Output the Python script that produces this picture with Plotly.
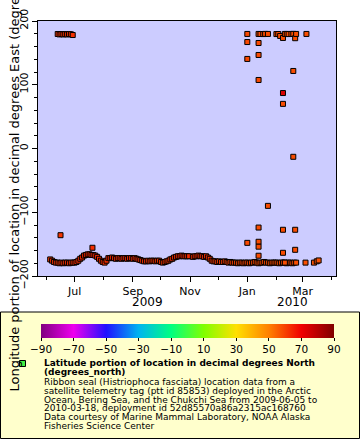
import pandas as pd
import plotly.graph_objects as go

# ---------------- data ----------------
# dense track (every 2 days from 2009-06-05), longitude in degrees East
band_start = "2009-06-05"
band_lon = [
    # Jun
    -174, -176, -178, -179, -179, -180, -179, -180, -179, -179, -180, -179, -179,
    # Jul
    -179, -178, -176, -173, -171, -168, -167, -166, -166, -167, -167, -168, -170, -173, -176, -178,
    # Aug
    -179, -176, -172, -172, -171, -172, -173, -172, -172, -173, -172, -172, -173, -172, -172,
    # Sep
    -173, -172, -173, -174, -175, -176, -177, -177, -176, -177, -176, -176, -177, -176, -176,
    # Oct
    -178, -179, -178, -177, -176, -174, -173, -171, -170, -169, -169, -168, -169, -169, -169, -169,
    # Nov
    None, -170, -169, -169, -168, -169, -169, -170, -169, -171, -173, -176, -177, -177, -178,
    # Dec
    -177, -178, -178, -177, -178, -179, -178, -179, -179, -179, -180, -179, -179, -180, -179,
    # Jan
    -179, -180, -179, -179, -178, -179, -180, -179, -179, -178, -179, -179, -180, -179, -179, -179,
    # Feb
    -179, -180, -179, -179, -179, -180, -179, -179, -180, -179,
]
band_lat = [
    61.5, 61.8, 62.0, 62.1, 62.0, 61.9, 62.2, 62.3, 62.1, 62.4, 62.5, 62.3, 62.6,
    62.7, 62.9, 63.1, 63.4, 63.6, 63.9, 64.1, 64.3, 64.2, 64.0, 63.8, 63.6, 63.4, 63.2, 63.0, 62.9,
    62.8, 63.0, 63.3, 63.5, 63.7, 63.6, 63.4, 63.6, 63.8, 63.7, 63.5, 63.6, 63.4, 63.5, 63.3,
    63.2, 63.4, 63.1, 62.9, 62.7, 62.5, 62.3, 62.4, 62.6, 62.4, 62.2, 62.3, 62.1, 62.0, 62.2,
    61.8, 61.6, 61.7, 61.9, 62.1, 62.4, 62.7, 63.0, 63.3, 63.5, 63.6, 63.8, 63.6, 63.5, 63.4, 63.3,
    63.2, 63.1, 63.3, 63.2, 63.4, 63.2, 63.0, 62.8, 62.6, 62.3, 62.0, 61.7, 61.5, 61.3, 61.1,
    61.0, 60.8, 60.6, 60.5, 60.3, 60.2, 60.0, 59.8, 59.7, 59.6, 59.5, 59.4, 59.3, 59.2, 59.1,
    59.0, 58.9, 58.8, 58.8, 58.7, 58.6, 58.5, 58.6, 58.5, 58.4, 58.5, 58.4, 58.3, 58.4, 58.3, 58.2,
    58.3, 58.2, 58.1, 58.2, 58.1, 58.0, 58.1, 58.0, 57.9, 58.0,
]

# sparse / outlying fixes
pt_time = [
    "2009-06-13", "2009-06-15", "2009-06-17", "2009-06-19", "2009-06-21", "2009-06-23",
    "2009-06-25", "2009-06-27", "2009-06-29", "2009-06-16", "2009-07-20",
    "2010-01-13", "2010-01-15", "2010-01-18", "2010-01-20", "2010-01-23",
    "2010-02-01", "2010-02-03", "2010-02-05", "2010-02-08", "2010-02-10", "2010-02-12",
    "2010-02-14", "2010-02-17", "2010-02-19", "2010-02-21", "2010-02-22", "2010-03-05",
    "2010-01-01", "2010-01-01", "2010-01-01", "2010-01-01",
    "2010-01-13", "2010-01-13", "2010-01-13", "2010-01-13", "2010-01-13", "2010-01-13", "2010-01-13",
    "2010-01-23",
    "2010-02-08", "2010-02-08", "2010-02-08", "2010-02-08",
    "2010-02-19", "2010-02-19",
    "2010-02-21", "2010-02-21",
    "2010-02-10", "2010-02-22", "2010-03-04", "2010-03-13", "2010-03-16", "2010-03-18",
]
pt_lon = [
    179.6, 179.0, 179.5, 179.0, 179.4, 179.0, 179.5, 179.2, 178.0, -136.0, -155.7,
    179.7, 179.6, 179.5, 179.8, 179.7,
    179.5, 179.6, 176.5, 173.4, 179.7, 179.7,
    179.5, 179.7, 179.8, 173.0, 179.7, 179.7,
    179.7, 167.0, 140.5, -148.0,
    165.5, 146.7, 107.5, -124.0, -146.3, -154.0, -168.2,
    -90.0,
    87.0, 70.0, -127.5, -163.6,
    121.6, -13.0,
    -127.5, -158.9,
    -179.0, -179.0, -179.0, -179.0, -177.0, -175.6,
]
pt_lat = [
    62.0, 62.1, 62.3, 62.2, 62.4, 62.5, 62.3, 62.6, 62.7, 61.9, 63.0,
    58.5, 58.4, 58.4, 58.3, 58.3,
    58.2, 58.2, 58.1, 58.0, 58.1, 58.0,
    58.1, 58.0, 57.9, 58.0, 57.9, 57.8,
    58.8, 58.7, 58.9, 58.8,
    58.6, 58.5, 58.6, 58.4, 58.5, 58.6, 58.5,
    58.4,
    74.0, 58.2, 58.3, 58.2,
    58.0, 58.1,
    57.9, 58.0,
    58.1, 57.9, 57.8, 57.7, 57.8, 57.7,
]

x_tickvals = ["2009-07-01", "2009-09-01", "2009-11-01", "2010-01-01", "2010-03-01"]
x_ticktext = ["Jul", "Sep", "Nov", "Jan", "Mar"]
x_minorvals = ["2009-06-01", "2009-08-01", "2009-10-01", "2009-12-01", "2010-02-01", "2010-04-01"]
year_labels = ["2009", "2010"]
year_pos = ["2009-09-17", "2010-02-18"]
y_tickvals = [-200, -100, 0, 100, 200]
cbar_ticks = [-90, -70, -50, -30, -10, 10, 30, 50, 70, 90]

legend_bold = ["Latitude portion of location in decimal degrees North", "(degrees_north)"]
legend_text = [
    "Ribbon seal (Histriophoca fasciata) location data from a",
    "satellite telemetry tag (ptt id 85853) deployed in the Arctic",
    "Ocean, Bering Sea, and the Chukchi Sea from 2009-06-05 to",
    "2010-03-18, deployment id 52d85570a86a2315ac168760",
    "Data courtesy of Marine Mammal Laboratory, NOAA Alaska",
    "Fisheries Science Center",
]
y_title = "Longitude portion of location in decimal degrees East (degrees_east)"

# ---------------- figure ----------------
FONT = "DejaVu Sans"
W, H = 360, 440
L, R, T, B = 38, 336, 21, 276


def px_x(px):
    return (px - L) / (R - L)


def px_y(py):
    return (B - py) / (B - T)


colorscale = [
    [0.0, "#800080"], [1 / 9, "#ee00ee"], [2 / 9, "#2010ff"], [3 / 9, "#00b4f0"],
    [4 / 9, "#00ff80"], [5 / 9, "#80ff00"], [6 / 9, "#ffe000"], [7 / 9, "#ff8000"],
    [8 / 9, "#f00000"], [1.0, "#800000"],
]

band_time = pd.date_range(band_start, periods=len(band_lon), freq="2D")

marker_common = dict(symbol="square", size=5, line=dict(color="black", width=1),
                     colorscale=colorscale, cmin=-90, cmax=90)

fig = go.Figure()
fig.add_trace(go.Scatter(
    x=band_time, y=band_lon, mode="markers", showlegend=False,
    marker=dict(color=band_lat, **marker_common,
                colorbar=dict(orientation="h", x=px_x(41), xanchor="left",
                              y=px_y(324), yanchor="top", len=293, lenmode="pixels",
                              thickness=14, outlinewidth=0, xpad=0, ypad=0,
                              tickmode="array", tickvals=cbar_ticks, ticks="outside",
                              ticklen=3, tickcolor="black",
                              tickfont=dict(family=FONT, size=10.5, color="black"))),
))
fig.add_trace(go.Scatter(
    x=pd.to_datetime(pt_time), y=pt_lon, mode="markers", showlegend=False,
    marker=dict(color=pt_lat, **marker_common),
))

shapes = [
    dict(type="rect", xref="paper", yref="paper", x0=px_x(0.5), x1=px_x(359.5),
         y0=px_y(312), y1=px_y(438.5), fillcolor="#ffffcc",
         line=dict(color="black", width=1), layer="below"),
    dict(type="rect", xref="paper", yref="paper", x0=px_x(19.5), x1=px_x(25.5),
         y0=px_y(360.5), y1=px_y(366.5), fillcolor="#44ee44",
         line=dict(color="black", width=1), layer="above"),
]

annotations = []
for lab, pos in zip(year_labels, year_pos):
    annotations.append(dict(x=pos, xref="x", y=px_y(302), yref="paper", text=lab,
                            showarrow=False, xanchor="center", yanchor="middle",
                            font=dict(family=FONT, size=12, color="black")))
annotations.append(dict(x=px_x(14), xref="paper", y=px_y(394), yref="paper", text=y_title,
                        textangle=-90, showarrow=False, xanchor="center", yanchor="bottom",
                        font=dict(family=FONT, size=13, color="black")))
line_y = [363.3, 372.0, 381.7, 390.7, 399.5, 408.3, 417.3, 426.0]
line_size = [9, 9, 9, 9, 9, 9, 9, 9]
all_lines = ["<b>" + t + "</b>" for t in legend_bold] + legend_text
for t, yy, fs in zip(all_lines, line_y, line_size):
    annotations.append(dict(x=px_x(42), xref="paper", y=px_y(yy), yref="paper", text=t,
                            showarrow=False, xanchor="left", yanchor="middle",
                            font=dict(family=FONT, size=fs, color="black")))

fig.update_layout(
    width=W, height=H,
    margin=dict(l=L, r=W - R, t=T, b=H - B, pad=0, autoexpand=False),
    paper_bgcolor="white", plot_bgcolor="#ccccff",
    font=dict(family=FONT, size=10, color="black"),
    shapes=shapes, annotations=annotations,
    xaxis=dict(range=["2009-05-23", "2010-04-05 12:00"], tickmode="array",
               tickvals=x_tickvals, ticktext=x_ticktext, ticks="outside", ticklen=5,
               tickcolor="black", showgrid=False, zeroline=False, showline=True,
               linecolor="black", linewidth=1, mirror=True, automargin=False,
               tickfont=dict(family=FONT, size=11),
               minor=dict(tickmode="array", tickvals=x_minorvals, ticks="outside",
                          ticklen=3, tickcolor="black", showgrid=False)),
    yaxis=dict(range=[-200, 200], tickmode="array", tickvals=y_tickvals, ticks="outside",
               ticklen=5, tickcolor="black", showgrid=False, zeroline=False, showline=True,
               linecolor="black", linewidth=1, mirror=True, tickangle=-90, automargin=False,
               tickfont=dict(family=FONT, size=11),
               minor=dict(dtick=20, tick0=0, ticks="outside", ticklen=3,
                          tickcolor="black", showgrid=False)),
)

fig.write_html("out.html", config={"displayModeBar": False},
               post_script="document.body.style.margin='0';document.body.style.overflow='hidden';")
